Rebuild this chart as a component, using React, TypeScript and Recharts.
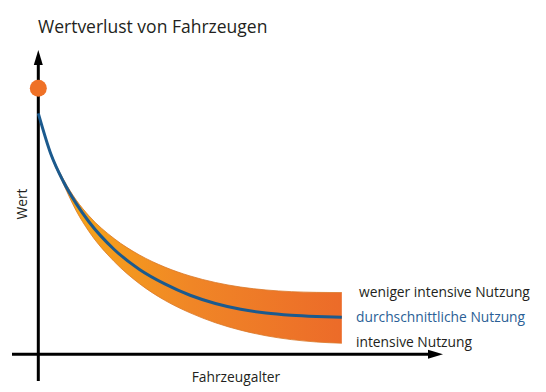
import { ComposedChart, Area, Line, XAxis, YAxis, ReferenceLine, ReferenceDot } from 'recharts';

// Fahrzeugalter (x) and Restwert (y, 100 = Neuwert)
const ages = [0, 0.5, 1, 1.5, 2, 3, 4, 5, 6, 7, 8, 9, 10, 11, 12];
const averageUse = [100, 83, 71.5, 62.5, 55, 43.5, 35.2, 29.2, 24.5, 21.1, 18.7, 17.1, 16.2, 15.7, 15.4];
const lightUse = [100, 83.5, 72.5, 64, 57.5, 48, 41.2, 36.2, 32.5, 29.8, 27.9, 26.7, 26, 25.7, 25.6];
const heavyUse = [100, 82.5, 70.5, 59.5, 51, 38.5, 29.3, 22.4, 17.2, 13.1, 10, 7.7, 6.1, 5.1, 4.6];
const newValue = 110.4;

const seriesLabels = ['weniger intensive Nutzung', 'durchschnittliche Nutzung', 'intensive Nutzung'];

const data = ages.map((age, i) => ({
  age,
  avg: averageUse[i],
  band: [heavyUse[i], lightUse[i]],
}));

const FONT = '"Open Sans", "Noto Sans", sans-serif';

// axis line with a small arrow head at the end point
const ArrowLine = (props: any) => {
  const { x1, y1, x2, y2 } = props;
  const horizontal = Math.abs(y2 - y1) < 1;
  const len = 15;
  const half = 4.5;
  if (horizontal) {
    return (
      <g>
        <line x1={x1} y1={y1} x2={x2 - len + 2} y2={y2} stroke="#000" strokeWidth={3} />
        <polygon points={`${x2},${y2} ${x2 - len},${y2 - half} ${x2 - len},${y2 + half}`} fill="#000" />
      </g>
    );
  }
  // vertical: arrow at the top
  const top = Math.min(y1, y2);
  const bottom = Math.max(y1, y2);
  return (
    <g>
      <line x1={x1} y1={bottom} x2={x1} y2={top + len - 2} stroke="#000" strokeWidth={3} />
      <polygon points={`${x1},${top} ${x1 - half},${top + len} ${x1 + half},${top + len}`} fill="#000" />
    </g>
  );
};

export default function App() {
  return (
    <div style={{ position: 'absolute', left: 0, top: 0, width: 546, height: 392, background: '#fff' }}>
      <ComposedChart
        width={546}
        height={392}
        data={data}
        margin={{ top: 50, right: 103, bottom: 11, left: 12 }}
      >
        <defs>
          <linearGradient id="bandFill" x1="0" y1="0" x2="1" y2="0">
            <stop offset="0%" stopColor="#f8ad17" />
            <stop offset="20%" stopColor="#f59e1c" />
            <stop offset="50%" stopColor="#f08626" />
            <stop offset="100%" stopColor="#ec6b29" />
          </linearGradient>
        </defs>
        <XAxis dataKey="age" type="number" domain={[-1.04, 16]} hide allowDataOverflow />
        <YAxis type="number" domain={[-11.08, 126.27]} hide allowDataOverflow />
        <ReferenceLine y={0} ifOverflow="visible" shape={ArrowLine} />
        <ReferenceLine x={0} ifOverflow="visible" shape={ArrowLine} />
        <Area
          dataKey="band"
          type="monotone"
          fill="url(#bandFill)"
          fillOpacity={1}
          stroke="#d9792a"
          strokeWidth={0.8}
          isAnimationActive={false}
        />
        <Line
          dataKey="avg"
          type="monotone"
          stroke="#1b5a8e"
          strokeWidth={3}
          dot={false}
          isAnimationActive={false}
        />
        <ReferenceDot x={0} y={newValue} r={8.5} fill="#ef7126" stroke="none" ifOverflow="visible" />
      </ComposedChart>
      <svg width={546} height={392} style={{ position: 'absolute', left: 0, top: 0, pointerEvents: 'none' }}>
        <text x={38} y={33} fontFamily={FONT} fontSize={17.5} fill="#231f20">Wertverlust von Fahrzeugen</text>
        <text x={359} y={297} fontFamily={FONT} fontSize={13.8} fill="#231f20">{seriesLabels[0]}</text>
        <text x={356} y={322} fontFamily={FONT} fontSize={13.8} fill="#2b5f96">{seriesLabels[1]}</text>
        <text x={356} y={347} fontFamily={FONT} fontSize={13.8} fill="#231f20">{seriesLabels[2]}</text>
        <text x={236} y={382} textAnchor="middle" fontFamily={FONT} fontSize={13.8} fill="#231f20">Fahrzeugalter</text>
        <text
          x={27}
          y={204}
          textAnchor="middle"
          transform="rotate(-90 27 204)"
          fontFamily={FONT}
          fontSize={13.8}
          fill="#231f20"
        >
          Wert
        </text>
      </svg>
    </div>
  );
}
